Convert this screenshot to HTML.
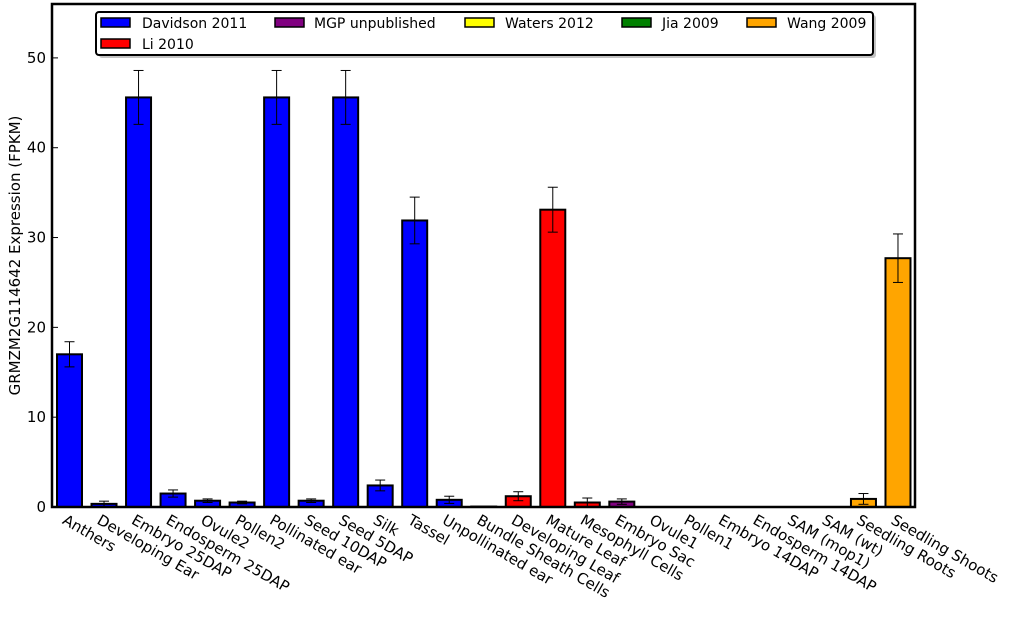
<!DOCTYPE html>
<html><head><meta charset="utf-8"><style>body{margin:0;background:#fff}svg text{font-family:"DejaVu Sans","Liberation Sans",sans-serif}</style></head>
<body>
<svg id="c" width="1024" height="614"></svg>
<script>
const categories=["Anthers","Developing Ear","Embryo 25DAP","Endosperm 25DAP","Ovule2","Pollen2","Pollinated ear","Seed 10DAP","Seed 5DAP","Silk","Tassel","Unpollinated ear","Bundle Sheath Cells","Developing Leaf","Mature Leaf","Mesophyll Cells","Embryo Sac","Ovule1","Pollen1","Embryo 14DAP","Endosperm 14DAP","SAM (mop1)","SAM (wt)","Seedling Roots","Seedling Shoots"];
const values=[17,0.35,45.6,1.5,0.7,0.5,45.6,0.7,45.6,2.4,31.9,0.8,0.05,1.2,33.1,0.5,0.6,0,0,0,0,0,0,0.9,27.7];
const errors=[1.4,0.3,3,0.4,0.2,0.15,3,0.2,3,0.6,2.6,0.4,0,0.5,2.5,0.5,0.3,0,0,0,0,0,0,0.6,2.7];
const sources=[0,0,0,0,0,0,0,0,0,0,0,0,1,1,1,1,2,2,2,3,3,4,4,5,5];
const sourceNames=["Davidson 2011","Li 2010","MGP unpublished","Waters 2012","Jia 2009","Wang 2009"];
const sourceColors=["#0000ff","#ff0000","#800080","#ffff00","#008000","#ffa500"];
const yTicks=[0,10,20,30,40,50];
const NS="http://www.w3.org/2000/svg",svg=document.getElementById('c');
function mk(t,a,p){const e=document.createElementNS(NS,t);for(const k in a)e.setAttribute(k,a[k]);(p||svg).appendChild(e);return e;}
const L=52,R=915,T=4,B=507,ymax=56;
const y=v=>B-v*(B-T)/ymax;
const step=(R-L)/categories.length;
const x=i=>L+i*step;
yTicks.forEach(t=>{
 const l=mk('line',{x1:L,x2:L+6,y1:y(t),y2:y(t),stroke:'#000'});
 const tx=mk('text',{x:L-6,y:y(t)+5,'text-anchor':'end','font-size':15});tx.textContent=t;
});
categories.forEach((c,i)=>{
 const v=values[i],e=errors[i],bx=x(i)+5,bw=25,cx=bx+bw/2;
 if(v>0){const r=mk('rect',{x:bx,y:y(v),width:bw,height:B-y(v),fill:sourceColors[sources[i]],stroke:'#000','stroke-width':2});}
 if(e>0){const g=mk('g',{stroke:'#000','stroke-width':1});
  mk('line',{x1:cx,x2:cx,y1:y(v+e),y2:y(v-e)},g);mk('line',{x1:cx-5,x2:cx+5,y1:y(v+e),y2:y(v+e)},g);mk('line',{x1:cx-5,x2:cx+5,y1:y(v-e),y2:y(v-e)},g);}
 const tx=mk('text',{x:cx-8,y:B+16,'font-size':15,transform:`rotate(30 ${cx-8} ${B+16})`});tx.textContent=c;
});
const fr=mk('rect',{x:L,y:T,width:R-L,height:B-T,fill:'none',stroke:'#000','stroke-width':2.5});
const yl=mk('text',{x:20,y:(T+B)/2,'text-anchor':'middle','font-size':15,transform:`rotate(-90 20 ${(T+B)/2})`});yl.textContent='GRMZM2G114642 Expression (FPKM)';
const lg=mk('g',{});
mk('rect',{x:99,y:15,width:777,height:43,rx:3,fill:'#888',opacity:0.5},lg);
mk('rect',{x:96,y:12,width:777,height:43,rx:3,fill:'#fff',stroke:'#000','stroke-width':2},lg);
const lx=[101,101,275,465,622,747],lyr=[0,1,0,0,0,0],tx0=[142,142,314,505,662,787];
sourceNames.forEach((n,k)=>{
 const g=mk('g',{},lg);
 const yy=18+lyr[k]*21;
 mk('rect',{x:lx[k],y:yy,width:29,height:9,fill:sourceColors[k],stroke:'#000','stroke-width':1.5},g);
 const t=mk('text',{x:tx0[k],y:yy+10,'font-size':14},g);t.textContent=n;
});
</script>
</body></html>
